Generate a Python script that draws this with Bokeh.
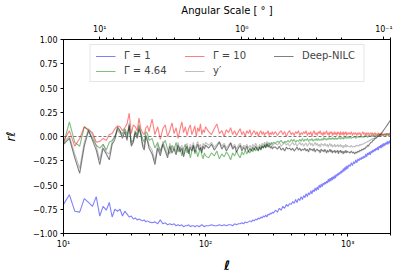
from bokeh.plotting import figure
from bokeh.models import (Range1d, LogScale, LogAxis, FixedTicker, Span,
                          Legend, LegendItem)
from bokeh.embed import file_html
from bokeh.resources import INLINE

# multipole segments
ELL_A = list(range(10, 41))          # 31
ELL_B = list(range(42, 101, 2))      # 30
ELL_C = list(range(105, 301, 5))     # 40
ELL_D = list(range(310, 1001, 10))   # 70
ELL_E = list(range(1020, 2001, 20))  # 50

# Gamma = 1
G1_A = [-0.70, -0.60, -0.77, -0.78, -0.64, -0.68, -0.72, -0.62, -0.82, -0.72,
        -0.76, -0.68, -0.83, -0.75, -0.77, -0.75, -0.82, -0.77, -0.80, -0.83,
        -0.82, -0.85, -0.84, -0.86, -0.85, -0.86, -0.87, -0.86, -0.88, -0.87,
        -0.88]
G1_B = [-0.89, -0.88, -0.90, -0.86, -0.90, -0.89, -0.91, -0.90, -0.91, -0.90,
        -0.92, -0.91, -0.92, -0.91, -0.93, -0.92, -0.92, -0.91, -0.93, -0.92,
        -0.92, -0.93, -0.92, -0.92, -0.93, -0.92, -0.91, -0.92, -0.93, -0.92]
G1_C = [-0.92, -0.91, -0.92, -0.92, -0.91, -0.92, -0.91, -0.92, -0.91, -0.91,
        -0.92, -0.90, -0.91, -0.90, -0.90, -0.89, -0.90, -0.88, -0.89, -0.88,
        -0.87, -0.88, -0.86, -0.87, -0.85, -0.86, -0.84, -0.85, -0.83, -0.84,
        -0.82, -0.83, -0.81, -0.83, -0.80, -0.81, -0.79, -0.80, -0.78, -0.79]
G1_D = [-0.76, -0.78, -0.74, -0.76, -0.72, -0.74, -0.70, -0.72, -0.69, -0.70,
        -0.67, -0.69, -0.65, -0.68, -0.64, -0.66, -0.62, -0.65, -0.61, -0.63,
        -0.59, -0.62, -0.58, -0.60, -0.56, -0.59, -0.55, -0.57, -0.53, -0.56,
        -0.52, -0.55, -0.50, -0.53, -0.49, -0.52, -0.48, -0.50, -0.47, -0.49,
        -0.46, -0.48, -0.44, -0.47, -0.43, -0.46, -0.42, -0.45, -0.41, -0.44,
        -0.40, -0.43, -0.39, -0.41, -0.38, -0.40, -0.37, -0.39, -0.36, -0.38,
        -0.35, -0.37, -0.33, -0.36, -0.32, -0.35, -0.31, -0.34, -0.30, -0.33]
G1_E = [-0.29, -0.31, -0.27, -0.30, -0.26, -0.28, -0.24, -0.27, -0.23, -0.25,
        -0.22, -0.24, -0.21, -0.23, -0.20, -0.22, -0.18, -0.21, -0.17, -0.19,
        -0.16, -0.19, -0.15, -0.17, -0.14, -0.16, -0.13, -0.15, -0.12, -0.14,
        -0.11, -0.14, -0.10, -0.12, -0.09, -0.12, -0.08, -0.11, -0.07, -0.10,
        -0.07, -0.09, -0.06, -0.08, -0.05, -0.08, -0.05, -0.07, -0.04, -0.05]

# Gamma = 4.64
G4_A = [-0.08, 0.15, -0.06, -0.10, 0.10, 0.06, -0.02, -0.09, -0.12, -0.08,
        -0.14, -0.06, -0.04, 0.00, 0.08, 0.05, 0.03, 0.08, 0.02, 0.10,
        -0.06, -0.04, 0.06, 0.02, 0.12, 0.04, -0.02, -0.06, 0.05, 0.03,
        -0.04]
G4_B = [-0.02, -0.12, -0.06, -0.15, -0.08, -0.04, -0.13, -0.18, -0.09, -0.14,
        -0.06, -0.16, -0.11, -0.20, -0.12, -0.08, -0.17, -0.13, -0.22, -0.15,
        -0.10, -0.18, -0.14, -0.21, -0.16, -0.12, -0.19, -0.23, -0.17, -0.20]
G4_C = [-0.22, -0.17, -0.20, -0.15, -0.23, -0.18, -0.21, -0.16, -0.19, -0.24,
        -0.17, -0.20, -0.15, -0.19, -0.22, -0.16, -0.19, -0.14, -0.18, -0.15,
        -0.17, -0.13, -0.16, -0.12, -0.15, -0.11, -0.14, -0.10, -0.13, -0.09,
        -0.12, -0.08, -0.11, -0.07, -0.10, -0.07, -0.09, -0.06, -0.08, -0.06]
G4_D = [-0.07, -0.05, -0.06, -0.04, -0.07, -0.05, -0.06, -0.04, -0.06, -0.03,
        -0.05, -0.03, -0.06, -0.04, -0.05, -0.03, -0.05, -0.02, -0.05, -0.03,
        -0.04, -0.02, -0.05, -0.03, -0.04, -0.02, -0.05, -0.03, -0.04, -0.02,
        -0.04, -0.02, -0.04, -0.03, -0.04, -0.02, -0.04, -0.01, -0.03, -0.02,
        -0.04, -0.02, -0.03, -0.01, -0.03, -0.02, -0.03, -0.01, -0.03, -0.02,
        -0.03, -0.01, -0.03, -0.02, -0.03, -0.01, -0.02, -0.01, -0.03, -0.01,
        -0.02, -0.01, -0.03, -0.01, -0.02, 0.00, -0.02, -0.01, -0.02, 0.00]
G4_E = [-0.02, 0.00, -0.02, -0.01, -0.01, 0.00, -0.02, 0.00, -0.01, 0.00,
        -0.01, 0.01, -0.01, 0.00, -0.01, 0.01, 0.00, 0.01, -0.01, 0.01,
        0.00, 0.01, 0.00, 0.02, 0.00, 0.01, 0.00, 0.02, 0.01, 0.01,
        0.00, 0.02, 0.01, 0.02, 0.00, 0.02, 0.01, 0.02, 0.01, 0.02,
        0.01, 0.02, 0.01, 0.03, 0.01, 0.02, 0.01, 0.02, 0.01, 0.02]

# Gamma = 10
G10_A = [-0.05, 0.06, -0.10, -0.02, 0.10, 0.07, 0.04, -0.06, -0.05, -0.02,
         -0.04, 0.02, 0.03, 0.08, 0.11, 0.10, 0.06, 0.09, 0.13, 0.24,
         0.03, 0.12, 0.10, 0.06, 0.19, 0.08, 0.04, 0.02, 0.09, 0.11,
         0.05]
G10_B = [0.18, 0.02, 0.10, -0.03, 0.08, 0.12, 0.00, 0.06, 0.14, 0.03,
         0.09, -0.02, 0.07, 0.15, 0.04, 0.10, 0.01, 0.08, 0.12, 0.02,
         0.06, 0.11, 0.00, 0.09, 0.05, 0.13, 0.02, 0.07, 0.04, 0.10]
G10_C = [0.05, 0.02, 0.08, 0.13, 0.03, 0.06, 0.00, 0.07, 0.04, 0.09,
         0.02, 0.06, 0.01, 0.05, 0.08, 0.02, 0.05, 0.00, 0.06, 0.03,
         0.07, 0.01, 0.04, 0.06, 0.02, 0.05, 0.00, 0.04, 0.06, 0.02,
         0.05, 0.01, 0.04, 0.03, 0.06, 0.01, 0.04, 0.02, 0.05, 0.02]
G10_D = [0.05, 0.01, 0.04, 0.06, 0.02, 0.05, 0.00, 0.04, 0.06, 0.02,
         0.04, 0.01, 0.05, 0.03, 0.06, 0.01, 0.04, 0.02, 0.05, 0.03,
         0.06, 0.01, 0.04, 0.02, 0.05, 0.00, 0.04, 0.06, 0.02, 0.04,
         0.01, 0.05, 0.03, 0.06, 0.02, 0.04, 0.01, 0.05, 0.02, 0.04,
         0.06, 0.02, 0.04, 0.01, 0.05, 0.03, 0.05, 0.01, 0.04, 0.02,
         0.05, 0.02, 0.04, 0.01, 0.05, 0.03, 0.04, 0.01, 0.05, 0.02,
         0.04, 0.02, 0.05, 0.01, 0.04, 0.03, 0.05, 0.01, 0.04, 0.02]
G10_E = [0.04, 0.02, 0.05, 0.01, 0.04, 0.02, 0.04, 0.01, 0.04, 0.02,
         0.04, 0.01, 0.03, 0.05, 0.02, 0.04, 0.01, 0.04, 0.02, 0.04,
         0.01, 0.03, 0.04, 0.02, 0.04, 0.01, 0.03, 0.04, 0.02, 0.03,
         0.01, 0.04, 0.02, 0.03, 0.01, 0.04, 0.02, 0.03, 0.01, 0.03,
         0.02, 0.03, 0.01, 0.03, 0.02, 0.03, 0.01, 0.03, 0.02, 0.02]

# y'
YP_A = [-0.06, 0.00, -0.18, -0.33, -0.06, 0.08, 0.02, -0.10, -0.24, -0.08,
        -0.16, -0.18, -0.05, 0.00, 0.06, 0.03, 0.01, 0.07, -0.01, 0.14,
        -0.08, -0.03, 0.05, 0.00, 0.10, 0.03, -0.07, -0.11, 0.02, -0.02,
        -0.09]
YP_B = [-0.14, -0.25, -0.08, -0.17, -0.05, -0.12, -0.19, -0.07, -0.14, -0.10,
        -0.16, -0.06, -0.13, -0.09, -0.18, -0.11, -0.07, -0.15, -0.08, -0.12,
        -0.06, -0.13, -0.09, -0.05, -0.11, -0.08, -0.14, -0.07, -0.10, -0.06]
YP_C = [-0.09, -0.06, -0.11, -0.08, -0.05, -0.10, -0.07, -0.12, -0.09, -0.06,
        -0.11, -0.08, -0.13, -0.09, -0.07, -0.12, -0.09, -0.11, -0.08, -0.12,
        -0.09, -0.12, -0.08, -0.11, -0.07, -0.10, -0.12, -0.08, -0.11, -0.07,
        -0.09, -0.06, -0.09, -0.05, -0.08, -0.06, -0.09, -0.07, -0.10, -0.08]
YP_D = [-0.07, -0.09, -0.06, -0.10, -0.08, -0.06, -0.09, -0.07, -0.10, -0.08,
        -0.06, -0.09, -0.07, -0.10, -0.08, -0.06, -0.09, -0.07, -0.10, -0.08,
        -0.07, -0.10, -0.08, -0.06, -0.09, -0.07, -0.10, -0.08, -0.06, -0.09,
        -0.07, -0.10, -0.08, -0.11, -0.07, -0.09, -0.08, -0.10, -0.07, -0.09,
        -0.10, -0.08, -0.11, -0.09, -0.07, -0.10, -0.08, -0.11, -0.09, -0.10,
        -0.08, -0.11, -0.09, -0.10, -0.08, -0.11, -0.09, -0.10, -0.08, -0.11,
        -0.09, -0.10, -0.12, -0.09, -0.11, -0.10, -0.08, -0.11, -0.09, -0.10]
YP_E = [-0.10, -0.11, -0.09, -0.11, -0.10, -0.11, -0.09, -0.10, -0.09, -0.10,
        -0.08, -0.09, -0.08, -0.08, -0.07, -0.07, -0.06, -0.06, -0.05, -0.05,
        -0.04, -0.04, -0.03, -0.03, -0.02, -0.02, -0.02, -0.01, -0.01, -0.01,
        0.00, 0.00, 0.00, 0.01, 0.01, 0.01, 0.01, 0.02, 0.02, 0.02,
        0.02, 0.02, 0.03, 0.03, 0.03, 0.03, 0.03, 0.03, 0.04, 0.04]

# Deep-NILC
DN_A = [-0.08, -0.02, -0.22, -0.38, -0.10, 0.06, -0.04, -0.14, -0.29, -0.12,
        -0.18, -0.24, -0.08, -0.03, 0.10, 0.06, -0.02, 0.05, -0.04, 0.12,
        -0.10, -0.06, 0.04, -0.02, 0.08, 0.02, -0.10, -0.14, 0.00, -0.05,
        -0.12]
DN_B = [-0.18, -0.29, -0.12, -0.20, -0.08, -0.15, -0.22, -0.10, -0.17, -0.13,
        -0.19, -0.09, -0.16, -0.12, -0.21, -0.14, -0.10, -0.18, -0.11, -0.15,
        -0.09, -0.16, -0.12, -0.08, -0.14, -0.11, -0.17, -0.10, -0.13, -0.09]
DN_C = [-0.12, -0.08, -0.14, -0.10, -0.06, -0.13, -0.09, -0.15, -0.11, -0.07,
        -0.13, -0.10, -0.16, -0.12, -0.09, -0.15, -0.11, -0.14, -0.10, -0.16,
        -0.12, -0.15, -0.11, -0.14, -0.10, -0.13, -0.15, -0.11, -0.14, -0.10,
        -0.12, -0.09, -0.12, -0.08, -0.11, -0.09, -0.12, -0.10, -0.13, -0.11]
DN_D = [-0.11, -0.13, -0.10, -0.14, -0.12, -0.15, -0.11, -0.13, -0.12, -0.14,
        -0.12, -0.15, -0.13, -0.11, -0.14, -0.12, -0.15, -0.13, -0.14, -0.12,
        -0.15, -0.13, -0.16, -0.12, -0.14, -0.13, -0.15, -0.12, -0.16, -0.14,
        -0.13, -0.15, -0.14, -0.17, -0.13, -0.15, -0.14, -0.16, -0.13, -0.15,
        -0.17, -0.14, -0.16, -0.15, -0.13, -0.16, -0.14, -0.17, -0.15, -0.16,
        -0.14, -0.17, -0.15, -0.16, -0.14, -0.18, -0.15, -0.16, -0.14, -0.17,
        -0.15, -0.16, -0.18, -0.15, -0.17, -0.16, -0.14, -0.17, -0.15, -0.16]
DN_E = [-0.16, -0.17, -0.15, -0.17, -0.16, -0.18, -0.16, -0.17, -0.15, -0.16,
        -0.14, -0.15, -0.13, -0.14, -0.12, -0.13, -0.11, -0.11, -0.09, -0.10,
        -0.08, -0.07, -0.06, -0.06, -0.04, -0.04, -0.03, -0.02, -0.02, -0.01,
        0.00, 0.00, 0.01, 0.02, 0.02, 0.03, 0.04, 0.05, 0.06, 0.07,
        0.08, 0.09, 0.10, 0.11, 0.12, 0.13, 0.14, 0.15, 0.16, 0.17]

SERIES_LABELS = ["Γ = 1", "Γ = 4.64", "Γ = 10", "y′", "Deep-NILC"]
SERIES_COLORS = ["blue", "green", "red", "grey", "black"]

Y_TICKS = [-1.0, -0.75, -0.5, -0.25, 0.0, 0.25, 0.5, 0.75, 1.0]
Y_TICK_LABELS = ["−1.00", "−0.75", "−0.50", "−0.25", "0.00", "0.25", "0.50", "0.75", "1.00"]
X_TICKS = [10, 100, 1000]
X_TICK_LABELS = ["10¹", "10²", "10³"]
TOP_TICKS = [10, 1, 0.1]
TOP_TICK_LABELS = ["10¹", "10⁰", "10⁻¹"]

ELL_SEGS = [ELL_A, ELL_B, ELL_C, ELL_D, ELL_E]


def series(*segs):
    xs, ys = [], []
    for ell, vals in zip(ELL_SEGS, segs):
        for l, v in zip(ell, vals):
            xs.append(l)
            ys.append(v)
    return xs, ys


DATA = [
    series(G1_A, G1_B, G1_C, G1_D, G1_E),
    series(G4_A, G4_B, G4_C, G4_D, G4_E),
    series(G10_A, G10_B, G10_C, G10_D, G10_E),
    series(YP_A, YP_B, YP_C, YP_D, YP_E),
    series(DN_A, DN_B, DN_C, DN_D, DN_E),
]

FONT = "DejaVu Sans"

p = figure(width=399, height=276, x_axis_type="log",
           x_range=Range1d(10, 2000), y_range=Range1d(-1, 1),
           output_backend="svg", toolbar_location=None,
           min_border_left=59, min_border_right=9,
           min_border_top=39, min_border_bottom=43)
p.xgrid.visible = False
p.ygrid.visible = False
p.outline_line_color = "black"
p.outline_line_alpha = 1.0
p.outline_line_width = 1

xa = p.below[0]
ya = p.left[0]

# angular scale axis (theta = 180/ell)
p.extra_x_ranges = {"ang": Range1d(180.0 / 10, 180.0 / 2000)}
p.extra_x_scales = {"ang": LogScale()}
top = LogAxis(x_range_name="ang", axis_label="Angular Scale [ ° ]")
top.ticker = FixedTicker(ticks=TOP_TICKS,
                         minor_ticks=[9, 8, 7, 6, 5, 4, 3, 2,
                                      0.9, 0.8, 0.7, 0.6, 0.5, 0.4, 0.3, 0.2, 0.09])
top.major_label_overrides = dict(zip(TOP_TICKS, TOP_TICK_LABELS))
p.add_layout(top, "above")

xa.ticker = FixedTicker(ticks=X_TICKS,
                        minor_ticks=[20, 30, 40, 50, 60, 70, 80, 90,
                                     200, 300, 400, 500, 600, 700, 800, 900, 2000])
xa.major_label_overrides = dict(zip(X_TICKS, X_TICK_LABELS))
xa.axis_label = "ℓ"

ya.ticker = FixedTicker(ticks=Y_TICKS, minor_ticks=[])
ya.major_label_overrides = dict(zip(Y_TICKS, Y_TICK_LABELS))
ya.axis_label = "rℓ"

for ax in [xa, ya, top]:
    ax.major_label_text_font = FONT
    ax.major_label_text_font_size = "8px"
    ax.major_label_text_color = "black"
    ax.axis_label_text_font = FONT
    ax.axis_label_text_color = "black"
    ax.axis_line_color = "black"
    ax.major_tick_line_color = "black"
    ax.minor_tick_line_color = "black"
    ax.major_tick_in = 0
    ax.major_tick_out = 3
    ax.minor_tick_in = 0
    ax.minor_tick_out = 2
    ax.major_label_standoff = 3
    ax.axis_label_standoff = 6
top.axis_label_text_font_style = "normal"
top.axis_label_text_font_size = "10px"
xa.axis_label_text_font_style = "bold italic"
xa.axis_label_text_font_size = "13px"
ya.axis_label_text_font_style = "italic"
ya.axis_label_text_font_size = "12px"
ya.axis_label_standoff = 12

p.add_layout(Span(location=0, dimension="width", line_color="#555555",
                  line_dash="3 2", line_width=0.8))

items = []
for (xs, ys), lab, col in zip(DATA, SERIES_LABELS, SERIES_COLORS):
    r = p.line(xs, ys, line_color=col, line_alpha=0.5, line_width=1.1)
    items.append(LegendItem(label=lab, renderers=[r]))

leg = Legend(items=items, location="top_center", orientation="vertical",
             nrows=2, margin=5, padding=5, spacing=4,
             glyph_width=20, glyph_height=10, label_standoff=9, label_width=56,
             label_text_font=FONT, label_text_font_size="10px",
             border_line_color="#cccccc", border_line_width=1,
             background_fill_alpha=0.8)
p.add_layout(leg, "center")

open("out.html", "w").write(file_html(p, INLINE))
